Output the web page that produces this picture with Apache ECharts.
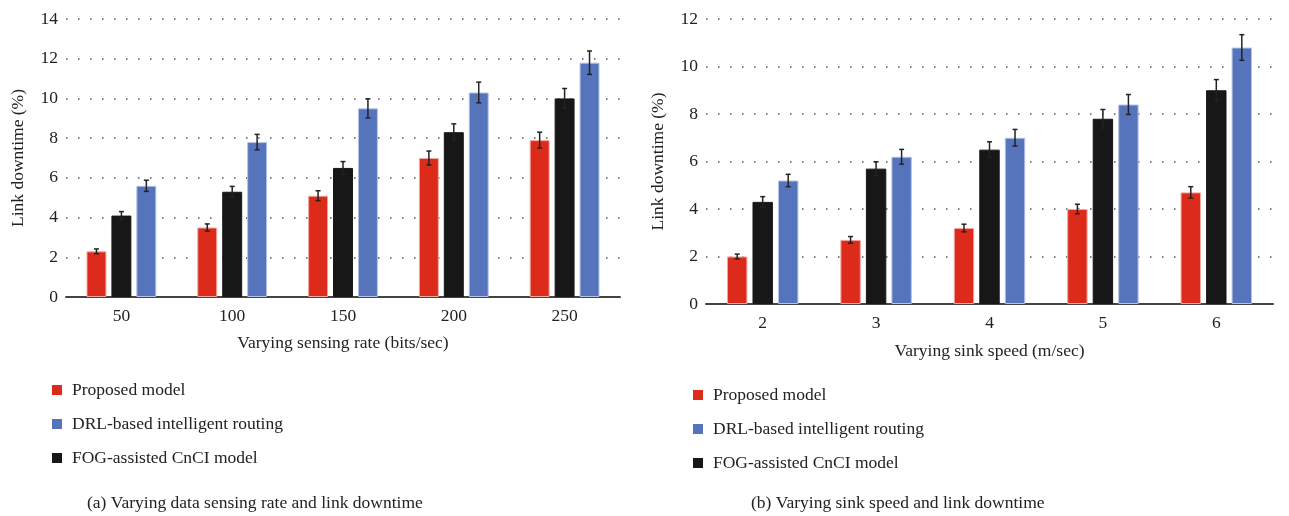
<!DOCTYPE html>
<html>
<head>
<meta charset="utf-8">
<script src="https://cdn.jsdelivr.net/npm/echarts@6/dist/echarts.min.js"></script>
<style>
  html, body { margin: 0; padding: 0; background: #fff; }
  #main { width: 1289px; height: 516px; }
</style>
</head>
<body>
<div id="main"></div>
<script>
// (a) sensing rate
const rateCats = ['50', '100', '150', '200', '250'];
const rateProposed = [2.3, 3.5, 5.1, 7.0, 7.9];
const rateFog = [4.1, 5.3, 6.5, 8.3, 10.0];
const rateDrl = [5.6, 7.8, 9.5, 10.3, 11.8];
const rateProposedErr = [0.12, 0.18, 0.25, 0.35, 0.4];
const rateFogErr = [0.2, 0.27, 0.32, 0.42, 0.5];
const rateDrlErr = [0.28, 0.39, 0.48, 0.52, 0.59];

// (b) sink speed
const speedCats = ['2', '3', '4', '5', '6'];
const speedProposed = [2.0, 2.7, 3.2, 4.0, 4.7];
const speedFog = [4.3, 5.7, 6.5, 7.8, 9.0];
const speedDrl = [5.2, 6.2, 7.0, 8.4, 10.8];
const speedProposedErr = [0.1, 0.14, 0.16, 0.2, 0.24];
const speedFogErr = [0.22, 0.29, 0.33, 0.39, 0.45];
const speedDrlErr = [0.26, 0.31, 0.35, 0.42, 0.54];

const names = ['Proposed model', 'DRL-based intelligent routing', 'FOG-assisted CnCI model'];
const colors = { red: '#dc2b1b', blue: '#5574bb', black: '#171717' };
const FONT = 'Liberation Serif';
const FS = 17.5;
const BAR_FRAC = 0.18, GAP = 0.25;

const chart = echarts.init(document.getElementById('main'));

function barSeries(name, data, color, border, idx) {
  return {
    name: name, type: 'bar', xAxisIndex: idx, yAxisIndex: idx,
    data: data, barWidth: '18%', barGap: '25%',
    itemStyle: { color: color, borderColor: border, borderWidth: 1 }
  };
}

function errSeries(vals, errs, k, idx) {
  return {
    type: 'custom', xAxisIndex: idx, yAxisIndex: idx, z: 5, silent: true,
    data: vals.map((v, i) => [i, v, errs[i], k]),
    encode: { x: 0, y: 1 },
    renderItem: function (params, api) {
      const i = api.value(0), v = api.value(1), e = api.value(2), kk = api.value(3);
      const band = api.size([1, 0])[0];
      const bw = band * BAR_FRAC;
      const off = (kk - 1) * bw * (1 + GAP);
      const hi = api.coord([i, v + e]);
      const lo = api.coord([i, v - e]);
      const x = hi[0] + off;
      const style = { stroke: '#222', lineWidth: 1.5 };
      return {
        type: 'group',
        children: [
          { type: 'line', shape: { x1: x, y1: hi[1], x2: x, y2: lo[1] }, style: style },
          { type: 'line', shape: { x1: x - 2.5, y1: hi[1], x2: x + 2.5, y2: hi[1] }, style: style },
          { type: 'line', shape: { x1: x - 2.5, y1: lo[1], x2: x + 2.5, y2: lo[1] }, style: style }
        ]
      };
    }
  };
}

function xAxis(cats, idx, title, gap) {
  return {
    type: 'category', gridIndex: idx, data: cats,
    axisLine: { lineStyle: { color: '#444', width: 2 } },
    axisTick: { show: false },
    axisLabel: { color: '#222', fontFamily: FONT, fontSize: FS, margin: 10 },
    name: title, nameLocation: 'middle', nameGap: gap,
    nameTextStyle: { color: '#222', fontFamily: FONT, fontSize: FS }
  };
}

function yAxis(max, idx) {
  return {
    type: 'value', gridIndex: idx, min: 0, max: max, interval: 2,
    axisLine: { show: false }, axisTick: { show: false },
    axisLabel: { color: '#222', fontFamily: FONT, fontSize: FS, margin: 8 },
    splitLine: { lineStyle: { color: '#555', width: 1.5, type: [1.5, 10.5] } },
    name: 'Link downtime (%)', nameLocation: 'middle', nameGap: 39,
    nameTextStyle: { color: '#222', fontFamily: FONT, fontSize: FS }
  };
}

function legend(left, top) {
  return {
    orient: 'vertical', left: left, top: top, padding: 0,
    data: names, icon: 'rect', itemWidth: 10, itemHeight: 10, itemGap: 16,
    itemStyle: { borderWidth: 0 },
    textStyle: { color: '#222', fontFamily: FONT, fontSize: FS, padding: [0, 0, 0, 5] }
  };
}

const option = {
  animation: false,
  color: [colors.red, colors.blue, colors.black],
  grid: [
    { left: 66, right: 669, top: 19, bottom: 219 },
    { left: 706, right: 16, top: 19, bottom: 212 }
  ],
  xAxis: [
    xAxis(rateCats, 0, 'Varying sensing rate (bits/sec)', 37),
    xAxis(speedCats, 1, 'Varying sink speed (m/sec)', 38)
  ],
  yAxis: [yAxis(14, 0), yAxis(12, 1)],
  legend: [legend(52, 381), legend(693, 386)],
  graphic: [
    { type: 'text', left: 87, top: 494, style: { text: '(a) Varying data sensing rate and link downtime', fontFamily: FONT, fontSize: FS, fill: '#222' } },
    { type: 'text', left: 751, top: 494, style: { text: '(b) Varying sink speed and link downtime', fontFamily: FONT, fontSize: FS, fill: '#222' } }
  ],
  series: [
    barSeries(names[0], rateProposed, colors.red, '#f0a8a0', 0),
    barSeries(names[2], rateFog, colors.black, colors.black, 0),
    barSeries(names[1], rateDrl, colors.blue, '#b4c3e6', 0),
    errSeries(rateProposed, rateProposedErr, 0, 0),
    errSeries(rateFog, rateFogErr, 1, 0),
    errSeries(rateDrl, rateDrlErr, 2, 0),
    barSeries(names[0], speedProposed, colors.red, '#f0a8a0', 1),
    barSeries(names[2], speedFog, colors.black, colors.black, 1),
    barSeries(names[1], speedDrl, colors.blue, '#b4c3e6', 1),
    errSeries(speedProposed, speedProposedErr, 0, 1),
    errSeries(speedFog, speedFogErr, 1, 1),
    errSeries(speedDrl, speedDrlErr, 2, 1)
  ]
};

option && chart.setOption(option);
</script>
</body>
</html>
